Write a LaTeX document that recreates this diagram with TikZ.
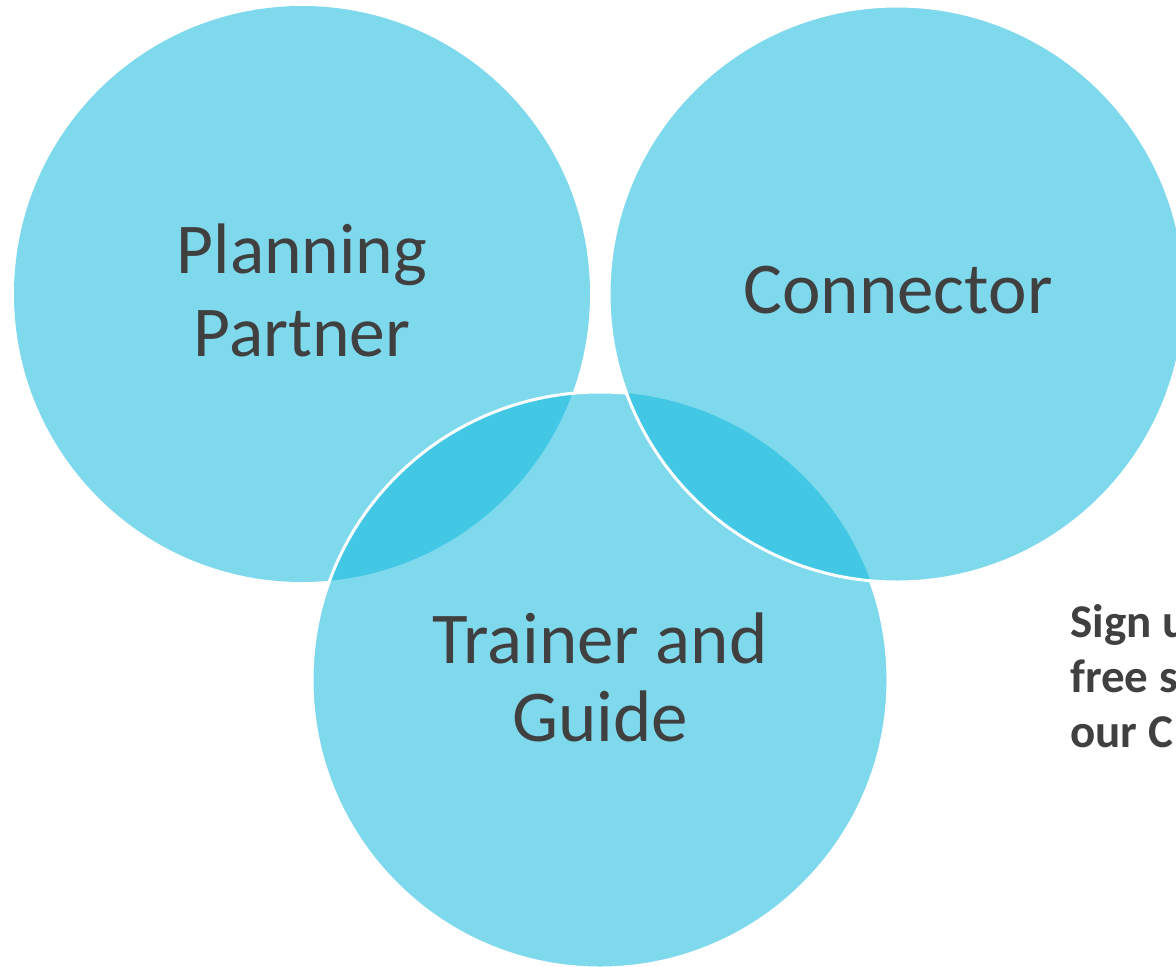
\documentclass[tikz,border=0pt]{standalone}
\usepackage{fontspec}
\setmainfont{Carlito}
\definecolor{lightc}{RGB}{127,217,237}
\definecolor{darkc}{RGB}{66,199,229}
\definecolor{txt}{RGB}{64,64,64}
\begin{document}
\begin{tikzpicture}[x=1pt,y=-1pt,
  lbl/.style={text=txt, align=center, inner sep=0pt},
  side/.style={text=txt, anchor=base west, inner sep=0pt, font=\bfseries\fontsize{47}{55}\selectfont}]
\clip (0,0) rectangle (1176,967);
\fill[white] (0,0) rectangle (1176,967);
\coordinate (c1) at (302,294);
\coordinate (c2) at (897,294);
\coordinate (c3) at (600,680);
% circle 1 and 3
\fill[lightc] (c1) circle[radius=288];
\fill[lightc] (c3) circle[radius=288];
\begin{scope}
  \clip (c1) circle[radius=288];
  \fill[darkc] (c3) circle[radius=288];
\end{scope}
\draw[white, line width=3pt] (c3) circle[radius=288];
% circle 2
\fill[lightc] (c2) circle[radius=288];
\begin{scope}
  \clip (c3) circle[radius=288];
  \fill[darkc] (c2) circle[radius=288];
\end{scope}
\draw[white, line width=3pt] (c2) circle[radius=288];
% labels
\node[lbl, font=\fontsize{71.5}{83}\selectfont] (pp) at (302,290) {Planning\\Partner};
\node[lbl, font=\fontsize{73}{73}\selectfont, anchor=base] (con) at (898,313) {Connector};
\node[lbl, font=\fontsize{73}{78}\selectfont] (tg) at (600,677.5) {Trainer and\\Guide};
% side text
\node[side] (s1) at (1070,637) {Sign u};
\node[side] (s2) at (1070,692) {free s};
\node[side] (s3) at (1070,747) {our C};
\end{tikzpicture}
\end{document}
